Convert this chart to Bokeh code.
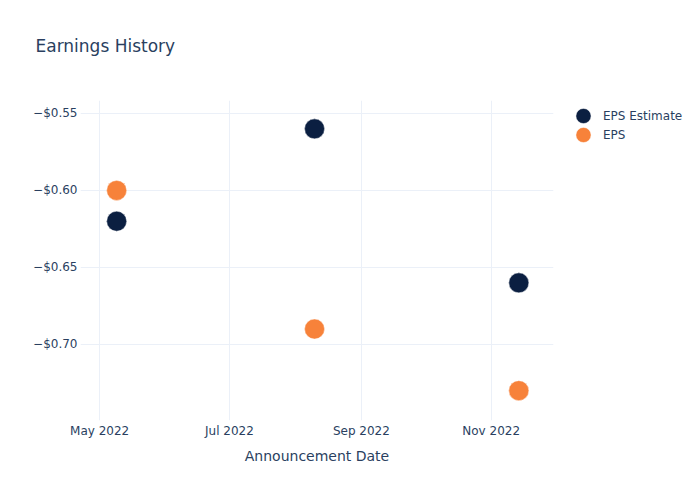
from datetime import datetime
from bokeh.plotting import figure
from bokeh.models import (ColumnDataSource, FixedTicker, CustomJSTickFormatter, Range1d,
                          Legend, LegendItem)
from bokeh.embed import file_html
from bokeh.resources import INLINE

dates = ["2022-05-09", "2022-08-10", "2022-11-14"]
eps_estimate = [-0.62, -0.56, -0.66]
eps_actual = [-0.60, -0.69, -0.73]
y_ticks = [-0.55, -0.60, -0.65, -0.70]
x_tick_dates = ["2022-05-01", "2022-07-01", "2022-09-01", "2022-11-01"]

def ms(s):
    return datetime.strptime(s, "%Y-%m-%d").timestamp() * 1000.0

xs = [datetime.strptime(d, "%Y-%m-%d") for d in dates]
src = ColumnDataSource(dict(x=xs, est=eps_estimate, eps=eps_actual))

FONT = "DejaVu Sans"
TXT = "#2a3f5f"
C_EST = "#0b1f41"
C_EPS = "#f7823a"

p = figure(frame_width=473, frame_height=320, output_backend="svg", toolbar_location=None,
           x_axis_type="datetime",
           x_range=Range1d(ms("2022-04-22"), ms("2022-11-30") + 0.3 * 86400000),
           y_range=Range1d(-0.7494, -0.5416),
           min_border_left=80, min_border_right=147, min_border_top=100, min_border_bottom=80,
           title="Earnings History\n")
p.outline_line_color = None
p.background_fill_color = "white"
p.border_fill_color = "white"

p.title.text_font = FONT
p.title.text_font_size = "17px"
p.title.text_font_style = "normal"
p.title.text_color = TXT
p.title.offset = -45
p.title.vertical_align = "top"
p.title.standoff = 46

p.scatter("x", "est", source=src, size=20, color=C_EST, line_color="white", line_width=0.5)
p.scatter("x", "eps", source=src, size=20, color=C_EPS, line_color="white", line_width=0.5)
r1 = p.ellipse("x", "est", source=src, width=20, height=20, width_units="screen",
               height_units="screen", fill_color=C_EST, line_color="white", line_width=0.5)
r2 = p.ellipse("x", "eps", source=src, width=20, height=20, width_units="screen",
               height_units="screen", fill_color=C_EPS, line_color="white", line_width=0.5)

p.xaxis.ticker = FixedTicker(ticks=[ms(d) for d in x_tick_dates])
p.xaxis.formatter = CustomJSTickFormatter(code="""
const m = ['Jan','Feb','Mar','Apr','May','Jun','Jul','Aug','Sep','Oct','Nov','Dec'];
const d = new Date(tick + 12*3600*1000);
return m[d.getUTCMonth()] + ' ' + d.getUTCFullYear();
""")
p.yaxis.ticker = FixedTicker(ticks=y_ticks)
p.yaxis.formatter = CustomJSTickFormatter(code="""
return (tick < 0 ? '\\u2212' : '') + '$' + Math.abs(tick).toFixed(2);
""")

for ax in (p.xaxis[0], p.yaxis[0]):
    ax.axis_line_color = None
    ax.major_tick_line_color = None
    ax.minor_tick_line_color = None
    ax.major_tick_out = 0
    ax.major_tick_in = 0
    ax.minor_tick_out = 0
    ax.minor_tick_in = 0
    ax.major_label_text_color = TXT
    ax.major_label_text_font = FONT
    ax.major_label_text_font_size = "12px"
p.xaxis.major_label_standoff = 3
p.yaxis.major_label_standoff = 3
p.xaxis.axis_label = "Announcement Date"
p.xaxis.axis_label_text_font = FONT
p.xaxis.axis_label_text_font_size = "14px"
p.xaxis.axis_label_text_font_style = "normal"
p.xaxis.axis_label_text_color = TXT
p.xaxis.axis_label_standoff = 7

p.xgrid.grid_line_color = "#ebf0f8"
p.ygrid.grid_line_color = "#ebf0f8"

legend = Legend(items=[LegendItem(label="EPS Estimate", renderers=[r1]),
                       LegendItem(label="EPS", renderers=[r2])],
                location=(20, 276), border_line_color=None, background_fill_alpha=0,
                label_text_font=FONT, label_text_font_size="12px", label_text_color=TXT,
                glyph_width=20, glyph_height=19, spacing=0, padding=0, margin=0,
                label_standoff=10, label_height=19)
p.add_layout(legend, "right")

open("out.html", "w").write(file_html(p, INLINE))
